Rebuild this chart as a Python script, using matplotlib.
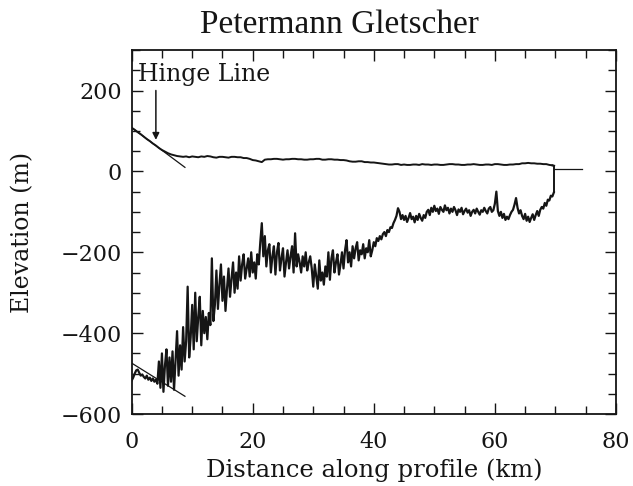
import matplotlib
matplotlib.use("Agg")
import matplotlib.pyplot as plt
from matplotlib.ticker import MultipleLocator
import numpy as np

# surface elevation, 0.5 km steps from 0 to 69.5 km
surface_km = np.arange(0, 70, 0.5)
surface_elev = [108, 103, 97, 92, 86, 80, 75, 69, 64, 58,
                53, 49, 45, 42, 40, 38, 37, 36, 37, 35,
                37, 36, 35, 37, 36, 38, 37, 35, 34, 36,
                36, 35, 34, 36, 36, 35, 35, 33, 33, 31,
                28, 27, 25, 23, 29, 30, 30, 31, 31, 30,
                29, 30, 30, 31, 31, 30, 30, 29, 29, 30,
                30, 31, 31, 29, 29, 30, 30, 29, 29, 28,
                28, 27, 25, 24, 24, 25, 25, 23, 23, 22,
                22, 21, 20, 19, 18, 17, 17, 18, 18, 16,
                17, 16, 16, 17, 17, 16, 18, 17, 17, 16,
                17, 17, 16, 16, 17, 18, 18, 17, 17, 16,
                16, 17, 17, 18, 17, 16, 16, 17, 17, 16,
                18, 18, 17, 16, 16, 17, 17, 18, 18, 20,
                20, 21, 20, 20, 19, 19, 18, 18, 16, 15]

# bed (ice bottom) elevation, 0.25 km steps from 0 to 69.75 km
bed_km = np.arange(0, 70, 0.25)
bed_elev = [-517, -510, -500, -492, -490, -498, -505, -502,
            -508, -512, -505, -515, -510, -518, -512, -520,
            -515, -525, -470, -535, -450, -545, -480, -440,
            -530, -460, -520, -445, -540, -470, -395, -505,
            -430, -490, -385, -470, -420, -285, -460, -410,
            -330, -440, -300, -420, -360, -310, -430, -345,
            -400, -360, -415, -350, -380, -215, -370, -330,
            -245, -340, -280, -230, -320, -260, -345, -290,
            -240, -310, -265, -225, -300, -250, -290, -210,
            -270, -230, -205, -265, -240, -215, -260, -200,
            -250, -225, -265, -205, -230, -175, -128, -210,
            -160, -235, -195, -180, -250, -210, -185, -255,
            -200, -177, -245, -215, -190, -260, -225, -195,
            -240, -210, -185, -250, -153, -235, -205, -225,
            -250, -210, -235, -200, -245, -225, -210, -240,
            -285, -230, -260, -290, -220, -270, -250, -280,
            -235, -260, -200, -268, -215, -195, -250, -225,
            -205, -255, -230, -200, -240, -195, -170, -225,
            -200, -235, -185, -215, -190, -175, -220, -195,
            -205, -180, -215, -190, -200, -170, -210, -195,
            -175, -185, -165, -172, -160, -168, -155, -150,
            -160, -145, -150, -138, -140, -128, -120, -110,
            -91, -100, -118, -108, -120, -110, -125, -115,
            -103, -118, -112, -126, -110, -120, -105, -115,
            -122, -108, -115, -100, -95, -108, -90, -100,
            -85, -98, -92, -105, -88, -95, -100, -84,
            -96, -90, -104, -92, -100, -88, -96, -108,
            -94, -100, -90, -106, -98, -92, -102, -96,
            -110, -100, -95, -104, -92, -100, -107, -96,
            -100, -90, -98, -104, -92, -88, -100, -96,
            -80, -50, -98, -110, -100, -115, -105, -120,
            -112, -118, -108, -100, -95, -82, -66, -90,
            -104, -96, -110, -118, -105, -122, -112, -125,
            -115, -106, -120, -108, -98, -110, -95, -88,
            -92, -78, -85, -70, -72, -60, -62, -52]

# ice front and the flat line beyond it
front_km = 69.8
front_elev = [-52, 14]
shelf_km = [69.8, 74.4]
shelf_elev = [6, 6]

# straight lines fitted to the grounded part
surf_fit_km = [0, 8.8]
surf_fit_elev = [108, 10]
bed_fit_km = [0, 8.8]
bed_fit_elev = [-474, -556]

hinge_km = 4.0

fig = plt.figure(figsize=(6.33, 4.86), dpi=100)
ax = fig.add_axes([0.208, 0.148, 0.765, 0.749])

ink = '#151515'
ax.plot(surface_km, surface_elev, color=ink, lw=1.4)
ax.plot([surface_km[-1], front_km], [surface_elev[-1], front_elev[1]], color=ink, lw=1.4)
ax.plot(bed_km, bed_elev, color=ink, lw=1.6)
ax.plot([bed_km[-1], front_km], [bed_elev[-1], front_elev[0]], color=ink, lw=1.6)
ax.plot([front_km, front_km], front_elev, color=ink, lw=1.4)
ax.plot(shelf_km, shelf_elev, color=ink, lw=0.9)
ax.plot(surf_fit_km, surf_fit_elev, color=ink, lw=0.9)
ax.plot(bed_fit_km, bed_fit_elev, color=ink, lw=0.9)

ax.annotate('', xy=(hinge_km, 78), xytext=(hinge_km, 200),
            arrowprops=dict(arrowstyle='-|>', color=ink, lw=1.1,
                            mutation_scale=10, shrinkA=0, shrinkB=0))
ax.text(1.0, 223, 'Hinge Line', family='DejaVu Serif', fontsize=17,
        color=ink, va='baseline', ha='left')

ax.set_xlim(0, 80)
ax.set_ylim(-600, 300)
ax.xaxis.set_major_locator(MultipleLocator(20))
ax.xaxis.set_minor_locator(MultipleLocator(5))
ax.yaxis.set_major_locator(MultipleLocator(200))
ax.yaxis.set_minor_locator(MultipleLocator(50))
ax.tick_params(which='both', direction='in', top=True, right=True,
               width=1.0, color=ink, labelcolor=ink, labelsize=16)
ax.tick_params(which='major', length=8)
ax.tick_params(which='minor', length=6)
ax.tick_params(axis='x', pad=12)
ax.tick_params(axis='y', pad=7)
for lab in ax.get_xticklabels() + ax.get_yticklabels():
    lab.set_family('DejaVu Serif')
for s in ax.spines.values():
    s.set_linewidth(1.3)
    s.set_color(ink)

ax.set_xlabel('Distance along profile (km)', family='DejaVu Serif',
              fontsize=17.5, color=ink, labelpad=4)
ax.set_ylabel('Elevation (m)', family='DejaVu Serif', fontsize=17,
              color=ink, labelpad=19)
fig.text(0.537, 0.932, 'Petermann Gletscher', family='Liberation Serif',
         fontsize=24, color=ink, ha='center', va='baseline')

fig.savefig('out.png', dpi=100, facecolor='white')
